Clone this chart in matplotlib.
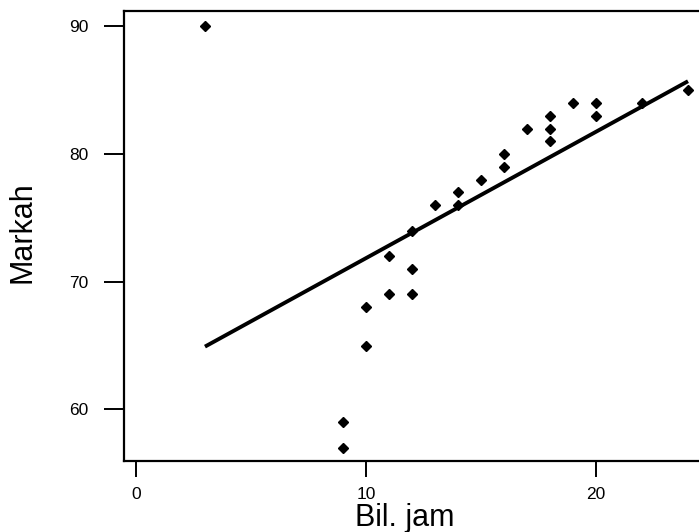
import numpy as np
import matplotlib
matplotlib.use("Agg")
import matplotlib.pyplot as plt

plt.rcParams['font.family'] = ['Liberation Sans', 'DejaVu Sans']

# Data
bil_jam = [3, 9, 9, 10, 10, 11, 11, 12, 12, 12, 13, 14, 14, 15, 16, 16,
           17, 18, 18, 18, 19, 20, 20, 22, 24]
markah = [90, 59, 57, 68, 65, 72, 69, 74, 71, 69, 76, 77, 76, 78, 80, 79,
          82, 83, 82, 81, 84, 84, 83, 84, 85]
x_ticks = [0, 10, 20]
y_ticks = [60, 70, 80, 90]
x_label = "Bil. jam"
y_label = "Markah"

W, H = 699, 532
fig = plt.figure(figsize=(W / 100, H / 100), dpi=100)
ax = fig.add_axes([124 / W, (H - 461) / H, (711 - 124) / W, (461 - 11) / H])

x = np.array(bil_jam, dtype=float)
y = np.array(markah, dtype=float)
slope, intercept = np.polyfit(x, y, 1)
xl = np.array([x.min(), x.max()])
ax.plot(xl, slope * xl + intercept, color='black', lw=2.8, solid_capstyle='butt')
ax.plot(x, y, linestyle='none', marker='D', markersize=4.8, color='black')

ax.set_xlim(-0.52, 25.0)
ax.set_ylim(55.95, 91.21)
ax.set_xticks(x_ticks)
ax.set_yticks(y_ticks)
ax.set_xticklabels([str(v) for v in x_ticks], fontsize=12.5)
ax.set_yticklabels([str(v) for v in y_ticks], fontsize=12.5)
ax.tick_params(axis='x', direction='out', length=11.5, width=1.4, pad=7)
ax.tick_params(axis='y', direction='out', length=14.4, width=1.4, pad=11)

for s in ['left', 'bottom', 'top', 'right']:
    ax.spines[s].set_linewidth(1.6)
    ax.spines[s].set_color('black')

ax.set_xlabel(x_label, fontsize=22)
ax.set_ylabel(y_label, fontsize=22)
axw = 711 - 124
axh = 461 - 11
ax.xaxis.set_label_coords((405 - 124) / axw, -(518 - 461) / axh)
ax.yaxis.set_label_coords(-(124 - 22) / axw, (461 - 232) / axh)
ax.xaxis.label.set_va('center')
ax.yaxis.label.set_va('center')

fig.savefig("out.png", dpi=100)
